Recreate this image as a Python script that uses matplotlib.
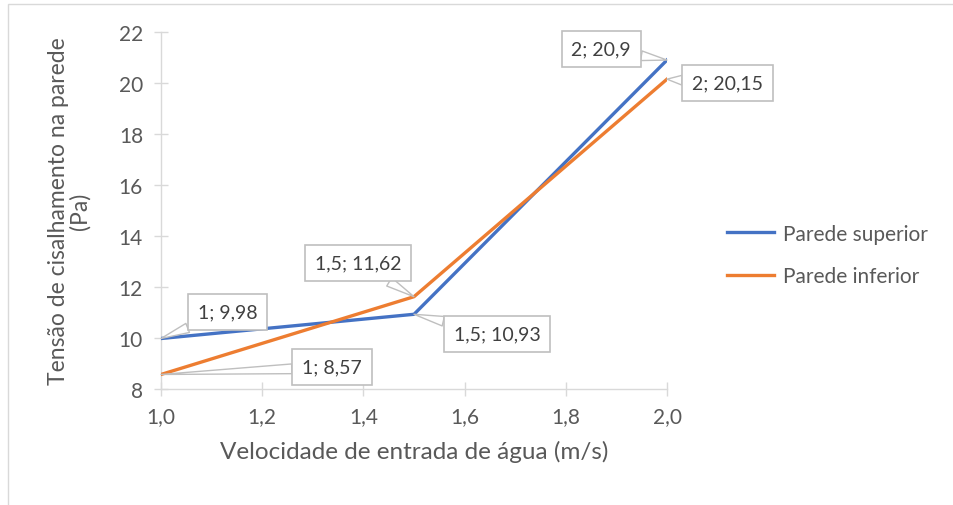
import matplotlib
matplotlib.use("Agg")
from matplotlib import pyplot as plt
from matplotlib.patches import Rectangle

# data
velocidade = [1.0, 1.5, 2.0]
parede_superior = [9.98, 10.93, 20.9]
parede_inferior = [8.57, 11.62, 20.15]
rotulos_sup = ["1; 9,98", "1,5; 10,93", "2; 20,9"]
rotulos_inf = ["1; 8,57", "1,5; 11,62", "2; 20,15"]
xticks = [1.0, 1.2, 1.4, 1.6, 1.8, 2.0]
yticks = [8, 10, 12, 14, 16, 18, 20, 22]

plt.rcParams['font.family'] = ['Lato', 'DejaVu Sans']

fig = plt.figure(figsize=(9.54, 5.06), dpi=100)
fig.patches.append(Rectangle((8 / 954, -0.1), 1.2, 1 - 5 / 506 + 0.1, transform=fig.transFigure,
                             fill=False, edgecolor='#D9D9D9', linewidth=1))
ax = fig.add_axes([161 / 954, 1 - 390 / 506, 506 / 954, 357 / 506])

azul = '#4472C4'
laranja = '#ED7D31'
ax.plot(velocidade, parede_superior, color=azul, linewidth=2.4, label='Parede superior', zorder=3)
ax.plot(velocidade, parede_inferior, color=laranja, linewidth=2.4, label='Parede inferior', zorder=3)

ax.set_xlim(1.0, 2.0)
ax.set_ylim(8, 22)
ax.set_xticks(xticks)
ax.set_xticklabels([f"{v:.1f}".replace('.', ',') for v in xticks])
ax.set_yticks(yticks)

for s in ['top', 'right']:
    ax.spines[s].set_visible(False)
for s in ['left', 'bottom']:
    ax.spines[s].set_color('#D9D9D9')
    ax.spines[s].set_linewidth(1)
ax.tick_params(direction='inout', length=10, width=1, color='#D9D9D9',
               labelcolor='#595959', labelsize=15)
ax.tick_params(axis='x', pad=7)
ax.tick_params(axis='y', pad=8)

ax.set_xlabel('Velocidade de entrada de água (m/s)', fontsize=17.5, color='#595959', labelpad=10)
ax.set_ylabel('Tensão de cisalhamento na parede\n(Pa)', fontsize=16.5, color='#595959', labelpad=20,
              linespacing=1.05)

# posicoes das caixas (dados)
pos_sup = [(1.132, 11.02), (1.664, 10.16), (1.870, 21.33)]
pos_inf = [(1.338, 8.86), (1.389, 12.94), (2.12, 20.0)]

caixa = dict(boxstyle='square,pad=0.5', fc='white', ec='#BFBFBF', lw=1.2)
seta = dict(arrowstyle='wedge,tail_width=0.5,shrink_factor=0.5', fc='white', ec='#BFBFBF', lw=1,
            shrinkA=0, shrinkB=0)
for x, y, txt, p in zip(velocidade, parede_superior, rotulos_sup, pos_sup):
    ax.annotate(txt, xy=(x, y), xytext=p, ha='center', va='center', fontsize=14,
                color='#404040', bbox=caixa, arrowprops=seta, annotation_clip=False, zorder=5)
for x, y, txt, p in zip(velocidade, parede_inferior, rotulos_inf, pos_inf):
    ax.annotate(txt, xy=(x, y), xytext=p, ha='center', va='center', fontsize=14,
                color='#404040', bbox=caixa, arrowprops=seta, annotation_clip=False, zorder=5)

ax.legend(loc='center left', bbox_to_anchor=(712 / 954, 1 - 256 / 506), bbox_transform=fig.transFigure,
          frameon=False, fontsize=15, labelcolor='#595959', handlelength=2.3, labelspacing=1.1,
          handletextpad=0.4, borderpad=0.2)

plt.savefig('out.png', dpi=100)
